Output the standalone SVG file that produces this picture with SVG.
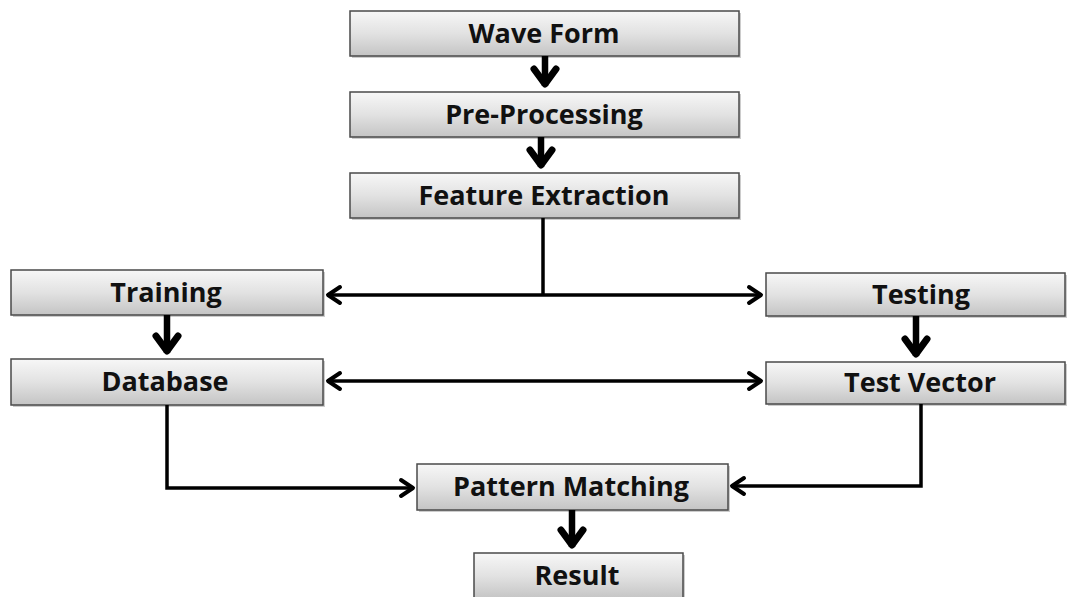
<svg xmlns="http://www.w3.org/2000/svg" width="1070" height="597" viewBox="0 0 1070 597">
<defs>
<linearGradient id="g" x1="0" y1="0" x2="0" y2="1">
<stop offset="0" stop-color="#f7f7f7"/>
<stop offset="0.5" stop-color="#e2e2e2"/>
<stop offset="1" stop-color="#c4c4c4"/>
</linearGradient>
</defs>
<style>
.box{fill:url(#g);stroke:#4a4a4a;stroke-width:1.5}
.sh{fill:#9a9a9a;opacity:0.5}
.t{font-family:"Open Sans","Liberation Sans",sans-serif;font-weight:bold;font-size:27px;fill:#111;text-anchor:middle}
.ln{fill:none;stroke:#000;stroke-width:3.5;stroke-linejoin:miter}
.thick{fill:none;stroke:#000;stroke-width:6.5}
.head{fill:none;stroke:#000;stroke-width:7;stroke-linecap:round;stroke-linejoin:round}
.hh{fill:none;stroke:#000;stroke-width:4;stroke-linecap:round;stroke-linejoin:round}
</style>
<rect width="1070" height="597" fill="#fff"/>
<g id="wave"><rect class="sh" x="352" y="13" width="389" height="45"/><rect class="box" x="350" y="11" width="389" height="45"/><text class="t" x="544" y="43">Wave Form</text></g>
<g id="pre"><rect class="sh" x="352" y="94" width="389" height="45"/><rect class="box" x="350" y="92" width="389" height="45"/><text class="t" x="544" y="124">Pre-Processing</text></g>
<g id="feat"><rect class="sh" x="352" y="175" width="389" height="45"/><rect class="box" x="350" y="173" width="389" height="45"/><text class="t" x="544" y="205">Feature Extraction</text></g>
<g id="train"><rect class="sh" x="13" y="272" width="312" height="45"/><rect class="box" x="11" y="270" width="312" height="45"/><text class="t" x="166" y="302">Training</text></g>
<g id="test"><rect class="sh" x="768" y="275" width="299" height="43"/><rect class="box" x="766" y="273" width="299" height="43"/><text class="t" x="921" y="304">Testing</text></g>
<g id="db"><rect class="sh" x="13" y="361" width="312" height="46"/><rect class="box" x="11" y="359" width="312" height="46"/><text class="t" x="165" y="391">Database</text></g>
<g id="tv"><rect class="sh" x="768" y="364" width="299" height="42"/><rect class="box" x="766" y="362" width="299" height="42"/><text class="t" x="920" y="392">Test Vector</text></g>
<g id="pm"><rect class="sh" x="419" y="466" width="311" height="46"/><rect class="box" x="417" y="464" width="311" height="46"/><text class="t" x="571" y="496">Pattern Matching</text></g>
<g id="res"><rect class="sh" x="476" y="555" width="209" height="46"/><rect class="box" x="474" y="553" width="209" height="46"/><text class="t" x="577" y="585">Result</text></g>
<g id="connectors">
<line class="thick" x1="545" y1="56" x2="545" y2="86"/>
<polyline class="head" points="534,69 545,84 556,69"/>
<line class="thick" x1="541" y1="137" x2="541" y2="167"/>
<polyline class="head" points="530,150 541,165 552,150"/>
<line class="thick" x1="167" y1="315" x2="167" y2="353"/>
<polyline class="head" points="156,336 167,351 178,336"/>
<line class="thick" x1="916" y1="316" x2="916" y2="356"/>
<polyline class="head" points="905,339 916,354 927,339"/>
<line class="thick" x1="572" y1="510" x2="572" y2="547"/>
<polyline class="head" points="561,530 572,545 583,530"/>
<polyline class="ln" points="543,218 543,295"/>
<line class="ln" x1="327" y1="295" x2="762" y2="295"/>
<polyline class="hh" points="340,287 328,295 340,303"/>
<polyline class="hh" points="749,287 761,295 749,303"/>
<line class="ln" x1="327" y1="381" x2="762" y2="381"/>
<polyline class="hh" points="340,373 328,381 340,389"/>
<polyline class="hh" points="749,373 761,381 749,389"/>
<polyline class="ln" points="167,405 167,488 413,488"/>
<polyline class="hh" points="401,480 413,488 401,496"/>
<polyline class="ln" points="921,404 921,486 732,486"/>
<polyline class="hh" points="744,478 732,486 744,494"/>
</g>
</svg>
